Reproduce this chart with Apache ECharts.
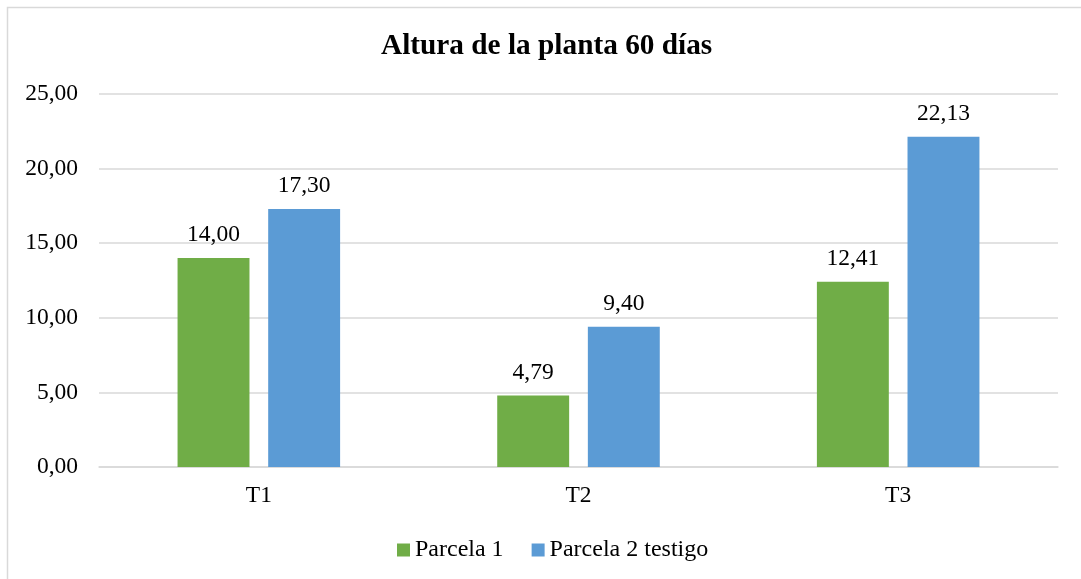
<!DOCTYPE html>
<html>
<head>
<meta charset="utf-8">
<script src="https://cdn.jsdelivr.net/npm/echarts@6/dist/echarts.min.js"></script>
<style>
html,body{margin:0;padding:0;background:#fff;}
#chart{width:1081px;height:579px;}
</style>
</head>
<body>
<div id="chart"></div>
<script>
const categories = ['T1', 'T2', 'T3'];
const parcela1 = [14.00, 4.79, 12.41];
const parcela2 = [17.30, 9.40, 22.13];
const seriesNames = ['Parcela 1', 'Parcela 2 testigo'];
const titleText = 'Altura de la planta 60 días';

const FONT = '"Liberation Serif", "Times New Roman", serif';
const fmt = v => v.toFixed(2).replace('.', ',');

const chart = echarts.init(document.getElementById('chart'), null, {renderer: 'canvas'});
chart.setOption({
  backgroundColor: '#fff',
  animation: false,
  textStyle: {fontFamily: FONT},
  graphic: [{
    type: 'rect',
    shape: {x: 7.5, y: 7.5, width: 1090, height: 590},
    style: {fill: 'none', stroke: '#d9d9d9', lineWidth: 1.5},
    silent: true, z: -1
  }],
  title: {
    text: titleText,
    left: 381,
    top: 32,
    padding: 0,
    textStyle: {fontFamily: FONT, fontWeight: 'bold', fontSize: 29.3, color: '#000'}
  },
  legend: {
    data: seriesNames,
    bottom: 17,
    left: 397,
    padding: 0,
    itemWidth: 13,
    itemHeight: 13,
    itemGap: 28,
    icon: 'rect',
    textStyle: {fontFamily: FONT, fontSize: 24, color: '#000'}
  },
  grid: {left: 99, right: 23, top: 94, bottom: 112, containLabel: false},
  xAxis: {
    type: 'category',
    data: categories,
    axisLine: {show: true, lineStyle: {color: '#d9d9d9', width: 1.5}},
    axisTick: {show: false},
    axisLabel: {fontFamily: FONT, fontSize: 23.5, color: '#000', margin: 17}
  },
  yAxis: {
    type: 'value',
    min: 0, max: 25, interval: 5,
    axisLine: {show: false},
    axisTick: {show: false},
    splitLine: {lineStyle: {color: '#d9d9d9', width: 1.5}},
    axisLabel: {fontFamily: FONT, fontSize: 23.5, color: '#000', margin: 21, formatter: fmt}
  },
  series: [
    {
      name: seriesNames[0], type: 'bar', data: parcela1,
      itemStyle: {color: '#70AD47'},
      barWidth: '22.5%', barGap: '26%',
      label: {show: true, position: 'top', distance: 11, fontFamily: FONT, fontSize: 23.5, color: '#000', formatter: p => fmt(p.value)}
    },
    {
      name: seriesNames[1], type: 'bar', data: parcela2,
      itemStyle: {color: '#5B9BD5'},
      barWidth: '22.5%', barGap: '26%',
      label: {show: true, position: 'top', distance: 11, fontFamily: FONT, fontSize: 23.5, color: '#000', formatter: p => fmt(p.value)}
    }
  ]
});
</script>
</body>
</html>
